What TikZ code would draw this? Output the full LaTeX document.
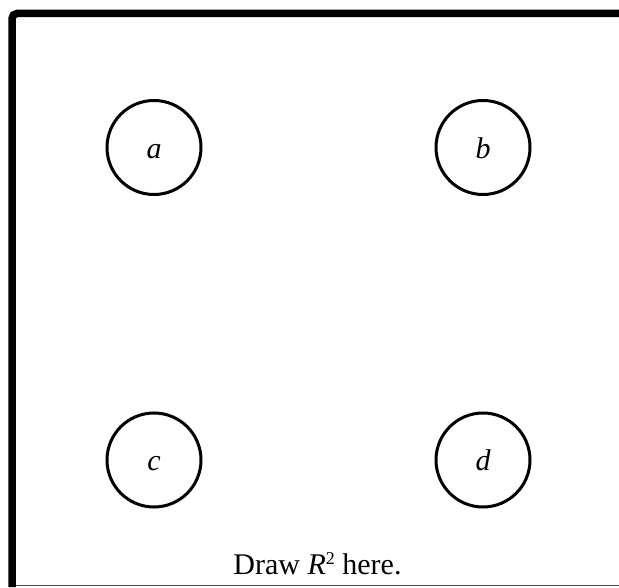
\documentclass[tikz,border=0pt]{standalone}
\usepackage{fontspec}
\setmainfont{Liberation Serif}
\begin{document}
\begin{tikzpicture}[x=1pt,y=1pt,
        region/.style={circle,draw,line width=3pt,minimum size=94pt,inner sep=0pt,
            text height=22pt,text depth=0pt,
            font=\fontsize{30}{36}\selectfont\itshape}]
    \useasboundingbox (0,0) rectangle (619,587);
    % --- Frame: heavy left and top edges, thin bottom edge ---
    \coordinate (topright) at (619,573.5);
    \coordinate (corner) at (12,573.5);
    \coordinate (bottomleft) at (12,0);
    \draw[line width=7.5pt,rounded corners=5pt] (topright) -- (corner) -- (bottomleft);
    \coordinate (baseleft) at (16,1.5);
    \coordinate (baseright) at (619,1.5);
    \draw[line width=1pt,gray!60!black] (baseleft) -- (baseright);
    % --- The four regions ---
    \node[region] (a) at (154,439.5) {a};
    \node[region] (b) at (483,439.5) {b};
    \node[region] (c) at (154,127) {c};
    \node[region] (d) at (483,127) {d};
    % --- Caption ---
    \node[font=\fontsize{30}{36}\selectfont,anchor=base,inner sep=0pt] (caption) at (317.5,13)
        {Draw \textit{R}{\fontsize{18}{20}\selectfont\raisebox{0.55em}{2}} here.};
\end{tikzpicture}
\end{document}
